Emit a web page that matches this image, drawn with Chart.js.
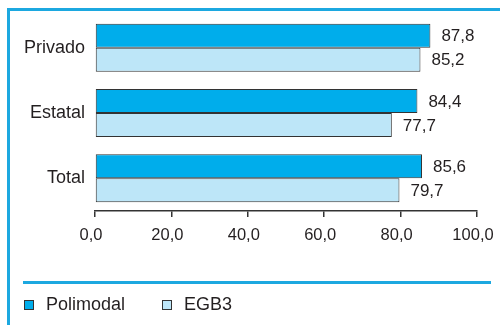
<!DOCTYPE html>
<html>
<head>
<meta charset="utf-8">
<script src="https://cdn.jsdelivr.net/npm/chart.js@4"></script>
<style>
    body { margin: 0; background: #fff; }
    .wrap { position: relative; width: 500px; height: 325px; }
    .frameTop { position: absolute; left: 8px; top: 8px; width: 492px; height: 3px; background: #1ca8e0; }
    .frameLeft { position: absolute; left: 7px; top: 8px; width: 3px; height: 317px; background: #1ca8e0; }
    .sep { position: absolute; left: 23px; top: 281px; width: 468px; height: 3px; background: #1ca8e0; }
    canvas { position: absolute; left: 0; top: 0; }
</style>
</head>
<body>
<div class="wrap">
    <div class="frameTop"></div>
    <div class="frameLeft"></div>
    <div class="sep"></div>
    <canvas id="barChart" width="500" height="325"></canvas>
</div>
<script>
const categories = ["Privado", "Estatal", "Total"];
const polimodal = [87.8, 84.4, 85.6];
const egb3 = [85.2, 77.7, 79.7];
const xTickLabels = ["0,0", "20,0", "40,0", "60,0", "80,0", "100,0"];

const FONT = "'Liberation Sans', Arial, sans-serif";
const TEXT = "#231f20";

// value labels right of each bar
const valueLabels = {
    id: "valueLabels",
    afterDatasetsDraw(chart) {
        const ctx = chart.ctx;
        ctx.save();
        ctx.font = "17px " + FONT;
        ctx.fillStyle = TEXT;
        ctx.textAlign = "left";
        ctx.textBaseline = "middle";
        chart.data.datasets.forEach((ds, i) => {
            chart.getDatasetMeta(i).data.forEach((bar, j) => {
                ctx.fillText(ds.data[j].toFixed(1).replace(".", ","), bar.x + 11, bar.y + 1);
            });
        });
        ctx.restore();
    }
};

// legend under the separator line
const bottomLegend = {
    id: "bottomLegend",
    afterDraw(chart) {
        const ctx = chart.ctx;
        const xs = [24, 162];
        ctx.save();
        ctx.font = "18px " + FONT;
        ctx.textBaseline = "middle";
        chart.data.datasets.forEach((ds, i) => {
            ctx.fillStyle = ds.backgroundColor;
            ctx.fillRect(xs[i] + 0.5, 300.5, 9, 9);
            ctx.strokeStyle = "#333";
            ctx.lineWidth = 1;
            ctx.strokeRect(xs[i] + 0.5, 300.5, 9, 9);
            ctx.fillStyle = TEXT;
            ctx.fillText(ds.label, xs[i] + 22, 305);
        });
        ctx.restore();
    }
};

new Chart(document.getElementById("barChart"), {
    type: "bar",
    data: {
        labels: categories,
        datasets: [{
            label: "Polimodal",
            data: polimodal,
            backgroundColor: "#00adeb",
            borderColor: "#333",
            borderWidth: 1,
            borderSkipped: false
        }, {
            label: "EGB3",
            data: egb3,
            backgroundColor: "#bde6f8",
            borderColor: "#333",
            borderWidth: 1,
            borderSkipped: false
        }]
    },
    options: {
        indexAxis: "y",
        responsive: false,
        animation: false,
        layout: { padding: { left: 15, right: 23, top: 15, bottom: 74 } },
        datasets: { bar: { barPercentage: 1, categoryPercentage: 0.735 } },
        plugins: { legend: { display: false }, tooltip: { enabled: false } },
        scales: {
            x: {
                min: 0,
                max: 100,
                ticks: {
                    stepSize: 20,
                    color: TEXT,
                    padding: 9,
                    labelOffset: -4,
                    font: { family: FONT, size: 16.5 },
                    callback: (v, i) => xTickLabels[i]
                },
                grid: { drawOnChartArea: false, drawTicks: true, tickLength: 6, color: "#333", lineWidth: 1.5 },
                border: { display: true, color: "#333", width: 1.5 },
                afterFit: s => { s.height = 40; s.paddingLeft = 0; s.paddingRight = 0; }
            },
            y: {
                ticks: { color: TEXT, padding: 10, font: { family: FONT, size: 18 } },
                grid: { display: false, drawTicks: false },
                border: { display: false },
                afterFit: s => { s.width = 80; s.paddingTop = 0; s.paddingBottom = 0; }
            }
        }
    },
    plugins: [valueLabels, bottomLegend]
});
</script>
</body>
</html>
